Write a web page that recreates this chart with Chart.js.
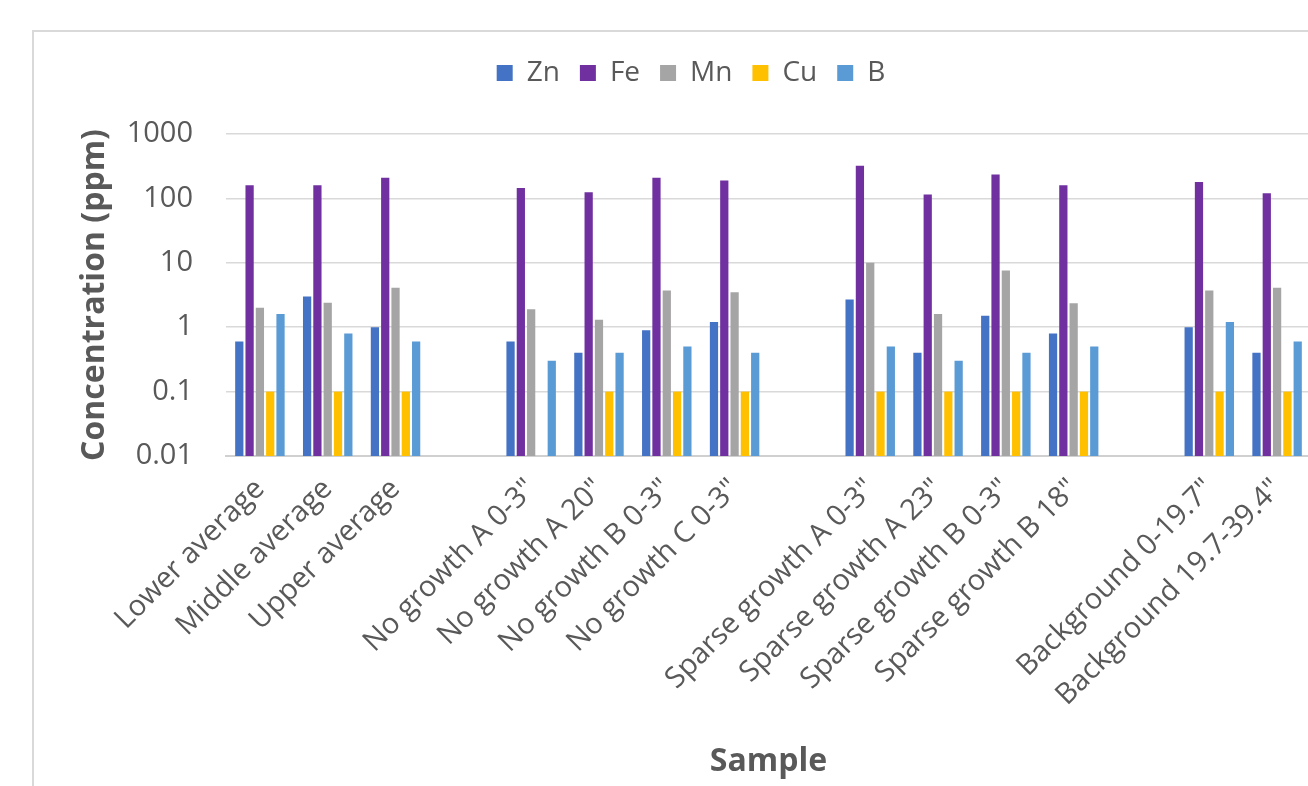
<!DOCTYPE html>
<html>
<head>
<meta charset="utf-8">
<script src="https://cdn.jsdelivr.net/npm/chart.js@4"></script>
<style>
  html, body { margin: 0; padding: 0; background: #fff; overflow: hidden; }
  #wrap {
    position: absolute; left: 32px; top: 30px;
    width: 1316px; height: 770px;
    border-top: 2px solid #d9d9d9; border-left: 2px solid #d9d9d9;
  }
</style>
</head>
<body>
<div id="wrap"><canvas id="elemChart"></canvas></div>
<script>
// sample names (blank entries are the gaps between groups)
const samples = [
  'Lower average', 'Middle average', 'Upper average', '',
  'No growth A 0-3"', 'No growth A 20"', 'No growth B 0-3"', 'No growth C 0-3"', '',
  'Sparse growth A 0-3"', 'Sparse growth A 23"', 'Sparse growth B 0-3"', 'Sparse growth B 18"', '',
  'Background 0-19.7"', 'Background 19.7-39.4"'
];

// concentrations in ppm
const zn = [0.6, 3.0, 1.0, null, 0.6, 0.4, 0.9, 1.2, null, 2.7, 0.4, 1.5, 0.8, null, 1.0, 0.4];
const fe = [160, 160, 210, null, 145, 125, 210, 190, null, 320, 115, 235, 160, null, 180, 120];
const mn = [2.0, 2.4, 4.1, null, 1.9, 1.3, 3.7, 3.5, null, 10, 1.6, 7.6, 2.35, null, 3.7, 4.1];
const cu = [0.1, 0.1, 0.1, null, null, 0.1, 0.1, 0.1, null, 0.1, 0.1, 0.1, 0.1, null, 0.1, 0.1];
const b  = [1.6, 0.8, 0.6, null, 0.3, 0.4, 0.5, 0.4, null, 0.5, 0.3, 0.4, 0.5, null, 1.2, 0.6];

const yTicks = [0.01, 0.1, 1, 10, 100, 1000];

const grey = '#595959';
const fontFam = "'Open Sans', sans-serif";

const ds = (label, data, color) => ({
  label: label,
  data: data,
  backgroundColor: color,
  borderWidth: 0,
  categoryPercentage: 0.76,
  barPercentage: 0.8
});

// leave some room under the legend, like the original
const legendGap = {
  id: 'legendGap',
  afterInit(chart) {
    const fit = chart.legend.fit;
    chart.legend.fit = function () {
      fit.call(this);
      this.height += 37;
    };
  }
};

new Chart(document.getElementById('elemChart'), {
  type: 'bar',
  data: {
    labels: samples,
    datasets: [
      ds('Zn', zn, '#4472C4'),
      ds('Fe', fe, '#7030A0'),
      ds('Mn', mn, '#A5A5A5'),
      ds('Cu', cu, '#FFC000'),
      ds('B', b, '#5B9BD5')
    ]
  },
  plugins: [legendGap],
  options: {
    responsive: true,
    maintainAspectRatio: false,
    animation: false,
    layout: {
      padding: { top: 7, right: 39, left: 37, bottom: 0 }
    },
    plugins: {
      legend: {
        position: 'top',
        labels: {
          boxWidth: 16,
          boxHeight: 16,
          padding: 20,
          color: grey,
          font: { family: fontFam, size: 28 }
        }
      },
      tooltip: { enabled: false }
    },
    scales: {
      x: {
        grid: { display: false, drawTicks: false },
        border: { color: '#d0d0d0', width: 2 },
        ticks: {
          color: grey,
          maxRotation: 45,
          minRotation: 45,
          autoSkip: false,
          padding: 16,
          font: { family: fontFam, size: 29 }
        },
        title: {
          display: true,
          text: 'Sample',
          color: grey,
          padding: { top: 0, bottom: 21 },
          font: { family: fontFam, size: 32, weight: 'bold' }
        },
        afterFit: (scale) => { scale.height = 346; }
      },
      y: {
        type: 'logarithmic',
        min: 0.01,
        max: 1000,
        afterBuildTicks: (scale) => {
          scale.ticks = yTicks.map(v => ({ value: v }));
        },
        grid: { color: '#d9d9d9', lineWidth: 1.5, drawTicks: false },
        border: { display: false },
        ticks: {
          color: grey,
          padding: 33,
          font: { family: fontFam, size: 29 },
          callback: (v) => String(v)
        },
        title: {
          display: true,
          text: 'Concentration (ppm)',
          color: grey,
          padding: { top: 5, bottom: 0 },
          font: { family: fontFam, size: 32, weight: 'bold' }
        },
        afterFit: (scale) => { scale.width = 155; }
      }
    }
  }
});
</script>
</body>
</html>
